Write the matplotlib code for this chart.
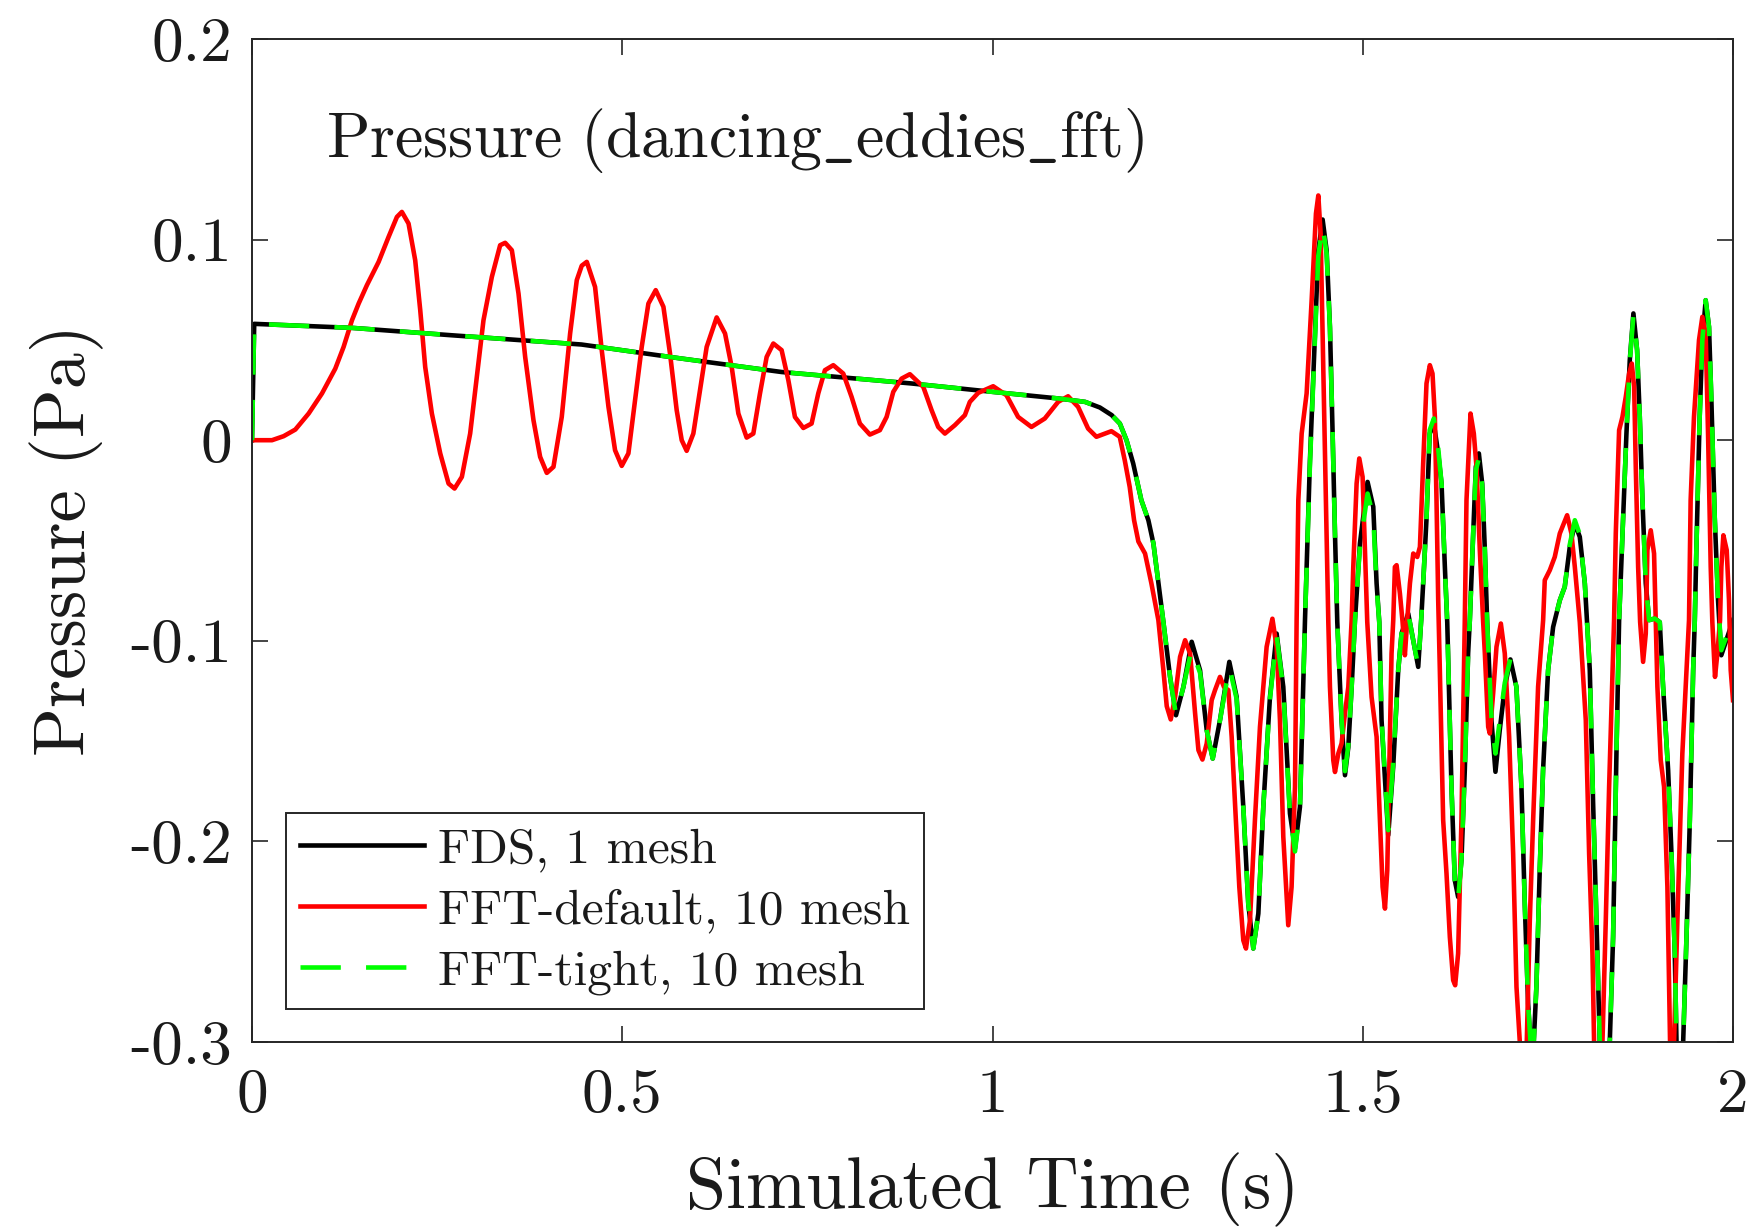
import matplotlib
matplotlib.use("Agg")
import matplotlib.pyplot as plt

# ---------------- data ----------------
t_fds = [0.000, 0.003, 0.030, 0.135, 0.270, 0.445, 0.580, 0.715, 0.890, 1.000,
         1.089, 1.125, 1.145, 1.161, 1.172, 1.181, 1.190, 1.201, 1.2105, 1.2173,
         1.2308, 1.2398, 1.2478, 1.2578, 1.2690, 1.2803, 1.2893, 1.2974, 1.3072, 1.3198,
         1.3297, 1.3387, 1.3454, 1.3522, 1.3590, 1.3657, 1.3747, 1.3837, 1.3927, 1.4017,
         1.4085, 1.4152, 1.4220, 1.4287, 1.4355, 1.4400, 1.4458, 1.4512, 1.4557, 1.4593,
         1.4625, 1.4656, 1.4714, 1.4760, 1.4805, 1.4850, 1.4895, 1.4962, 1.5065, 1.5142,
         1.5187, 1.5223, 1.5254, 1.5344, 1.5411, 1.5479, 1.5524, 1.5614, 1.5749, 1.5789,
         1.5816, 1.5860, 1.5904, 1.5960, 1.6019, 1.6064, 1.6109, 1.6141, 1.6198, 1.6243,
         1.6288, 1.6333, 1.6378, 1.6423, 1.6446, 1.6491, 1.6527, 1.6568, 1.6613, 1.6649,
         1.6680, 1.6738, 1.6792, 1.6850, 1.6918, 1.6994, 1.7075, 1.7143, 1.7188, 1.7233,
         1.7290, 1.7345, 1.7390, 1.7435, 1.7503, 1.7571, 1.7661, 1.7728, 1.7796, 1.7864,
         1.7931, 1.7999, 1.8066, 1.8111, 1.8156, 1.8201, 1.8270, 1.8336, 1.8381, 1.8426,
         1.8462, 1.8516, 1.8561, 1.8606, 1.8655, 1.8705, 1.8741, 1.8777, 1.8822, 1.8867,
         1.8943, 1.9011, 1.9056, 1.9124, 1.9169, 1.9214, 1.9237, 1.9280, 1.9327, 1.9372,
         1.9417, 1.9462, 1.9484, 1.9505, 1.9550, 1.9586, 1.9631, 1.9676, 1.9708, 1.9753,
         1.9798, 1.9842, 1.9910, 2.0000]
p_fds = [0.000, 0.058, 0.0576, 0.056, 0.0523, 0.0477, 0.0407, 0.034, 0.0283, 0.0241,
         0.0208, 0.0191, 0.0163, 0.0125, 0.0083, 0.000, -0.0116, -0.0299, -0.0399, -0.0515,
         -0.0907, -0.118, -0.1371, -0.123, -0.1005, -0.1147, -0.1446, -0.1587, -0.1396, -0.1105,
         -0.128, -0.1828, -0.231, -0.2534, -0.236, -0.1828, -0.128, -0.0964, -0.123, -0.1861,
         -0.2035, -0.1828, -0.0897, -0.010, 0.0532, 0.0947, 0.110, 0.0947, 0.0565, 0.0033,
         -0.0465, -0.0907, -0.1396, -0.167, -0.153, -0.123, -0.0897, -0.0515, -0.0208, -0.0332,
         -0.0714, -0.0907, -0.1396, -0.1969, -0.1629, -0.1147, -0.0964, -0.0864, -0.113, -0.0897,
         -0.0714, -0.0399, 0.0033, 0.0083, -0.0066, -0.0216, -0.0632, -0.0907, -0.1728, -0.2193,
         -0.2277, -0.2093, -0.1645, -0.1063, -0.0897, -0.0465, -0.0133, -0.0066, -0.0216, -0.0548,
         -0.0907, -0.1396, -0.1653, -0.1446, -0.123, -0.1093, -0.123, -0.1728, -0.231, -0.2808,
         -0.315, -0.2725, -0.2144, -0.1645, -0.1147, -0.0931, -0.0798, -0.0731, -0.0532, -0.0415,
         -0.0482, -0.0714, -0.1146, -0.1811, -0.2393, -0.300, -0.335, -0.300, -0.2476, -0.1562,
         -0.0897, -0.0382, 0.0033, 0.0399, 0.0632, 0.0449, 0.0116, -0.0299, -0.0714, -0.0897,
         -0.0889, -0.0907, -0.1229, -0.1645, -0.2061, -0.2559, -0.300, -0.330, -0.300, -0.2476,
         -0.1894, -0.1147, -0.0897, -0.0548, 0.0116, 0.0499, 0.0698, 0.0565, 0.0199, -0.0382,
         -0.0798, -0.1072, -0.0997, -0.0897]

t_tight = list(t_fds)
p_tight = [0.000, 0.058, 0.0576, 0.056, 0.0523, 0.0477, 0.0407, 0.034, 0.0283, 0.0241,
           0.0208, 0.0191, 0.0163, 0.0125, 0.0083, 0.000, -0.0116, -0.0299, -0.0399, -0.0515,
           -0.0907, -0.118, -0.1371, -0.123, -0.104, -0.1160, -0.1446, -0.1587, -0.1396, -0.113,
           -0.129, -0.1828, -0.231, -0.2534, -0.236, -0.1828, -0.129, -0.0975, -0.124, -0.1870,
           -0.205, -0.1840, -0.0897, -0.012, 0.0510, 0.0920, 0.107, 0.0930, 0.0560, 0.0033,
           -0.0465, -0.0907, -0.1390, -0.165, -0.152, -0.123, -0.0897, -0.0530, -0.0266, -0.0380,
           -0.0730, -0.0907, -0.1390, -0.1944, -0.1610, -0.1147, -0.0964, -0.0864, -0.113, -0.0897,
           -0.0714, -0.0399, 0.0050, 0.0108, -0.0040, -0.0216, -0.0632, -0.0907, -0.1728, -0.2193,
           -0.2290, -0.2093, -0.1645, -0.1063, -0.0897, -0.0465, -0.0150, -0.0090, -0.0230, -0.0548,
           -0.0907, -0.1380, -0.1562, -0.1400, -0.121, -0.1089, -0.123, -0.1728, -0.231, -0.2808,
           -0.315, -0.2725, -0.2144, -0.1645, -0.1147, -0.0931, -0.0798, -0.0731, -0.0520, -0.0399,
           -0.0470, -0.0714, -0.1146, -0.1811, -0.2393, -0.300, -0.335, -0.300, -0.2476, -0.1562,
           -0.0897, -0.0382, 0.0033, 0.0390, 0.0623, 0.0449, 0.0116, -0.0299, -0.0714, -0.0897,
           -0.0889, -0.0907, -0.1229, -0.1645, -0.2061, -0.2559, -0.300, -0.330, -0.300, -0.2476,
           -0.1894, -0.1147, -0.0897, -0.0548, 0.0116, 0.0499, 0.0698, 0.0565, 0.0199, -0.0382,
           -0.0798, -0.1047, -0.0980, -0.0900]

t_default = [0.000, 0.027, 0.0427, 0.0585, 0.0765, 0.0945, 0.1125, 0.1237, 0.1350, 0.1440,
             0.1552, 0.1710, 0.1844, 0.1957, 0.2024, 0.2114, 0.2204, 0.2272, 0.2339, 0.2429,
             0.2542, 0.2654, 0.2735, 0.2834, 0.2946, 0.3036, 0.3126, 0.3239, 0.3351, 0.3419,
             0.3509, 0.3599, 0.3689, 0.3801, 0.3891, 0.3981, 0.4071, 0.4183, 0.4296, 0.4386,
             0.4453, 0.4521, 0.4633, 0.4723, 0.4814, 0.4903, 0.4993, 0.5083, 0.5173, 0.5263,
             0.5353, 0.5452, 0.5556, 0.5645, 0.5735, 0.5803, 0.5870, 0.5960, 0.6050, 0.6140,
             0.6275, 0.6388, 0.6478, 0.6568, 0.6680, 0.6770, 0.6860, 0.6950, 0.7040, 0.7152,
             0.7243, 0.7332, 0.7445, 0.7557, 0.7647, 0.7737, 0.7850, 0.7985, 0.8097, 0.8209,
             0.8344, 0.8479, 0.8570, 0.8660, 0.8772, 0.8884, 0.9065, 0.9177, 0.9267, 0.9357,
             0.9492, 0.9627, 0.9694, 0.9807, 1.0009, 1.0189, 1.0346, 1.0526, 1.0706, 1.0886,
             1.1021, 1.1156, 1.1291, 1.1403, 1.1606, 1.1718, 1.1786, 1.1853, 1.1912, 1.1970,
             1.2060, 1.2146, 1.2240, 1.2308, 1.2353, 1.2407, 1.2466, 1.2533, 1.2601, 1.2668,
             1.2736, 1.2781, 1.2835, 1.2893, 1.2960, 1.3005, 1.3072, 1.3126, 1.3185, 1.3230,
             1.3275, 1.3333, 1.3387, 1.3423, 1.3477, 1.3544, 1.3612, 1.3702, 1.3780, 1.3837,
             1.3882, 1.3927, 1.3994, 1.4039, 1.4085, 1.4107, 1.4130, 1.4175, 1.4242, 1.4310,
             1.4368, 1.4400, 1.4431, 1.4467, 1.4503, 1.4535, 1.4557, 1.4602, 1.4625, 1.4670,
             1.4714, 1.4760, 1.4805, 1.4850, 1.4872, 1.4917, 1.4953, 1.4998, 1.5030, 1.5061,
             1.5119, 1.5187, 1.5232, 1.5268, 1.5300, 1.5331, 1.5358, 1.5389, 1.5412, 1.5434,
             1.5457, 1.5502, 1.5538, 1.5569, 1.5600, 1.5637, 1.5682, 1.5736, 1.5772, 1.5816,
             1.5861, 1.5906, 1.5942, 1.5974, 1.5996, 1.6019, 1.6041, 1.6086, 1.6131, 1.6176,
             1.6221, 1.6248, 1.6288, 1.6333, 1.6378, 1.6401, 1.6455, 1.6500, 1.6536, 1.6581,
             1.6626, 1.6649, 1.6694, 1.6716, 1.6761, 1.6806, 1.6865, 1.6918, 1.6977, 1.7031,
             1.7076, 1.7121, 1.7168, 1.7215, 1.7256, 1.7301, 1.7368, 1.7436, 1.7458, 1.7526,
             1.7593, 1.7661, 1.7760, 1.7818, 1.7864, 1.7931, 1.8012, 1.8057, 1.8102, 1.8124,
             1.8169, 1.8237, 1.8282, 1.8327, 1.8394, 1.8417, 1.8462, 1.8507, 1.8552, 1.8597,
             1.8633, 1.8665, 1.8687, 1.8719, 1.8746, 1.8786, 1.8822, 1.8844, 1.8889, 1.8934,
             1.8957, 1.8979, 1.9024, 1.9069, 1.9114, 1.9150, 1.9168, 1.9204, 1.9249, 1.9316,
             1.9406, 1.9428, 1.9473, 1.9541, 1.9586, 1.9631, 1.9663, 1.9699, 1.9721, 1.9757,
             1.9789, 1.9825, 1.9843, 1.9870, 1.9915, 1.9946, 1.9969, 2.0000]
p_default = [0.000, 0.000, 0.002, 0.0053, 0.0133, 0.0233, 0.0357, 0.0465, 0.0598, 0.0681,
             0.0773, 0.0889, 0.1013, 0.1113, 0.1138, 0.108, 0.0897, 0.0648, 0.0365, 0.0133,
             -0.0066, -0.0216, -0.0241, -0.0183, 0.0033, 0.0316, 0.0598, 0.0814, 0.0972, 0.0984,
             0.0947, 0.0731, 0.0415, 0.010, -0.0083, -0.0163, -0.0133, 0.0116, 0.0532, 0.0798,
             0.087, 0.0889, 0.0764, 0.0449, 0.0166, -0.005, -0.0128, -0.0066, 0.0199, 0.0465,
             0.0681, 0.0748, 0.0665, 0.0432, 0.015, 0.000, -0.0053, 0.0033, 0.0249, 0.0465,
             0.0612, 0.0532, 0.0365, 0.0133, 0.0013, 0.0033, 0.0233, 0.0415, 0.0482, 0.0449,
             0.0299, 0.0116, 0.0061, 0.0083, 0.0233, 0.0349, 0.0374, 0.0332, 0.0216, 0.0083,
             0.0028, 0.005, 0.0116, 0.0241, 0.0307, 0.0329, 0.0266, 0.015, 0.0066, 0.0033,
             0.0075, 0.0125, 0.0191, 0.0236, 0.0269, 0.0224, 0.0116, 0.0066, 0.0108, 0.0191,
             0.0219, 0.0166, 0.0058, 0.0017, 0.0045, 0.0017, -0.010, -0.0233, -0.0399, -0.0505,
             -0.0565, -0.0714, -0.0897, -0.1147, -0.1326, -0.1392, -0.128, -0.108, -0.0997, -0.1063,
             -0.1362, -0.1545, -0.1592, -0.1512, -0.1296, -0.1246, -0.118, -0.123, -0.1246, -0.1479,
             -0.1811, -0.2227, -0.2493, -0.2534, -0.2393, -0.1894, -0.1429, -0.103, -0.089, -0.103,
             -0.1396, -0.1977, -0.2418, -0.2227, -0.1728, -0.0897, -0.0299, 0.0033, 0.0233, 0.0698,
             0.113, 0.122, 0.103, 0.0365, -0.0299, -0.0907, -0.1229, -0.1595, -0.1654, -0.1562,
             -0.1512, -0.1362, -0.123, -0.0897, -0.0632, -0.0216, -0.0091, -0.0183, -0.0548, -0.0907,
             -0.128, -0.1479, -0.1894, -0.2227, -0.2335, -0.2144, -0.1645, -0.1063, -0.0897, -0.0632,
             -0.0623, -0.0765, -0.0907, -0.1072, -0.090, -0.0714, -0.0565, -0.0582, -0.0532, -0.0116,
             0.0283, 0.0374, 0.0332, 0.0116, -0.0299, -0.0798, -0.1146, -0.1894, -0.216, -0.2476,
             -0.2692, -0.2717, -0.2559, -0.1894, -0.0897, -0.0299, 0.0133, 0.0033, -0.0133, -0.0548,
             -0.0907, -0.1063, -0.1429, -0.1462, -0.1262, -0.103, -0.0914, -0.1063, -0.1479, -0.2061,
             -0.2725, -0.300, -0.340, -0.300, -0.2393, -0.1894, -0.1229, -0.0897, -0.0698, -0.0648,
             -0.0582, -0.0465, -0.0374, -0.0465, -0.0632, -0.0907, -0.1396, -0.2061, -0.2559, -0.300,
             -0.340, -0.300, -0.2393, -0.1728, -0.0897, -0.0465, 0.005, 0.0116, 0.0216, 0.0332,
             0.0382, 0.0266, -0.0133, -0.0632, -0.0907, -0.1105, -0.0964, -0.0548, -0.0449, -0.0565,
             -0.0907, -0.1229, -0.1595, -0.1728, -0.2227, -0.300, -0.320, -0.300, -0.2393, -0.1562,
             -0.0897, -0.0299, 0.0116, 0.0499, 0.0615, 0.0532, 0.0033, -0.0632, -0.0907, -0.118,
             -0.1063, -0.0897, -0.0632, -0.0474, -0.0548, -0.0798, -0.1146, -0.1296]

series_labels = ["FDS, 1 mesh", "FFT-default, 10 mesh", "FFT-tight, 10 mesh"]
x_ticks = [0, 0.5, 1, 1.5, 2]
x_ticklabels = ["0", "0.5", "1", "1.5", "2"]
y_ticks = [-0.3, -0.2, -0.1, 0, 0.1, 0.2]
y_ticklabels = ["-0.3", "-0.2", "-0.1", "0", "0.1", "0.2"]
title_text = r"$\mathrm{Pressure\ (dancing\_eddies\_fft)}$"
x_label = "Simulated Time (s)"
y_label = "Pressure (Pa)"

# ---------------- style ----------------
plt.rcParams["font.family"] = ["cmr10", "DejaVu Serif"]
plt.rcParams["mathtext.fontset"] = "cm"
plt.rcParams["axes.unicode_minus"] = False

W, H, DPI = 1757, 1227, 100
fig = plt.figure(figsize=(W / DPI, H / DPI), dpi=DPI)
ax = fig.add_axes([252 / W, 1 - 1042 / H, (1733 - 252) / W, (1042 - 39) / H])

lw = 3.3
ax.plot(t_fds, p_fds, color="black", lw=lw, label=series_labels[0], solid_joinstyle="round")
ax.plot(t_default, p_default, color="#ff0000", lw=lw, label=series_labels[1], solid_joinstyle="round")
ax.plot(t_tight, p_tight, color="#00ff00", lw=lw, label=series_labels[2],
        dashes=(8.8, 5.5), dash_joinstyle="round")

ax.set_xlim(0, 2)
ax.set_ylim(-0.3, 0.2)
ax.set_xticks(x_ticks)
ax.set_xticklabels(x_ticklabels)
ax.set_yticks(y_ticks)
ax.set_yticklabels(y_ticklabels)

spine_col = "#262626"
for s in ax.spines.values():
    s.set_linewidth(1.4)
    s.set_color(spine_col)
ax.tick_params(axis="both", which="major", direction="in", length=11.5, width=1.2,
               colors=spine_col, labelcolor="#1a1a1a", labelsize=45.5,
               top=True, right=True)
ax.tick_params(axis="x", pad=19)
ax.tick_params(axis="y", pad=14)

ax.text(0.05, 0.882, title_text, transform=ax.transAxes, fontsize=46,
        ha="left", va="baseline", color="#1a1a1a")

fig.text(992.5 / W, 1 - 1208 / H, x_label, fontsize=52, ha="center", va="baseline",
         color="#1a1a1a")
fig.text(67 / W, 1 - 540.5 / H, y_label, fontsize=52, ha="center", va="center",
         rotation=90, color="#1a1a1a")

leg = ax.legend(loc="lower left", bbox_to_anchor=(0.023, 0.033), borderaxespad=0,
                fontsize=35.6, handlelength=2.5, handletextpad=0.28, labelspacing=0.33,
                borderpad=0.29, fancybox=False, framealpha=1, edgecolor=spine_col)
leg.get_frame().set_linewidth(1.4)
for txt in leg.get_texts():
    txt.set_color("#1a1a1a")

fig.savefig("out.png", dpi=DPI)
